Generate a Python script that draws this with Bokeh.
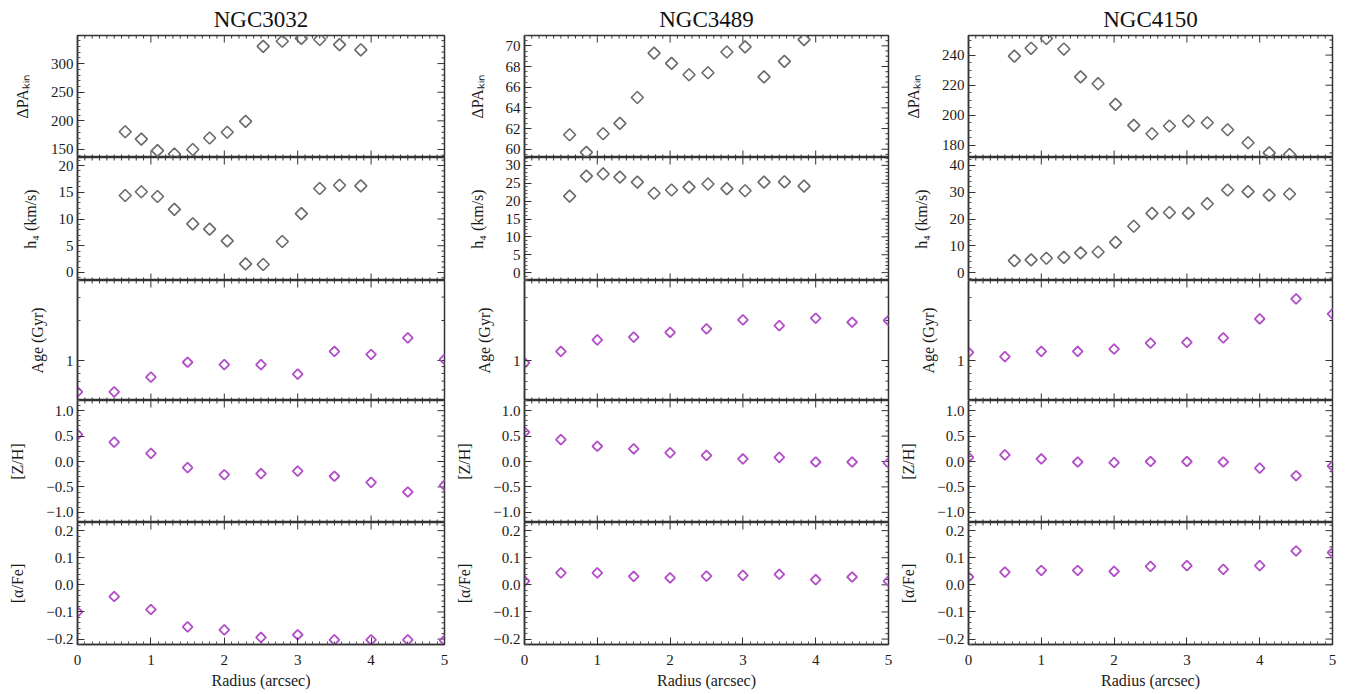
import numpy as np
from bokeh.plotting import figure
from bokeh.models import Range1d, FixedTicker
from bokeh.layouts import gridplot
from bokeh.embed import file_html
from bokeh.resources import INLINE

# ---------------- data ----------------
galaxies = ["NGC3032", "NGC3489", "NGC4150"]

r_pop = [0.0, 0.5, 1.0, 1.5, 2.0, 2.5, 3.0, 3.5, 4.0, 4.5, 5.0]

r_kin_3032 = [0.65, 0.87, 1.09, 1.32, 1.57, 1.80, 2.04, 2.29, 2.53, 2.79, 3.05, 3.30, 3.57, 3.86]
pa_3032 = [181, 168, 148, 142, 150, 170, 180, 199, 330, 339, 344, 342, 333, 324]
h4_3032 = [14.4, 15.1, 14.2, 11.8, 9.1, 8.1, 5.9, 1.6, 1.5, 5.8, 11.0, 15.7, 16.3, 16.2]
age_3032 = [0.58, 0.58, 0.75, 0.97, 0.93, 0.93, 0.79, 1.17, 1.11, 1.48, 1.02]
zh_3032 = [0.53, 0.38, 0.16, -0.12, -0.26, -0.24, -0.19, -0.29, -0.41, -0.60, -0.47]
afe_3032 = [-0.100, -0.043, -0.091, -0.155, -0.166, -0.194, -0.184, -0.203, -0.203, -0.203, -0.205]

r_kin_3489 = [0.62, 0.85, 1.08, 1.31, 1.55, 1.78, 2.02, 2.26, 2.52, 2.78, 3.03, 3.29, 3.57, 3.84]
pa_3489 = [61.4, 59.7, 61.5, 62.5, 65.0, 69.3, 68.3, 67.2, 67.4, 69.4, 69.9, 67.0, 68.5, 70.6]
h4_3489 = [21.4, 27.0, 27.6, 26.7, 25.3, 22.2, 23.1, 23.9, 24.8, 23.5, 22.9, 25.3, 25.4, 24.2]
age_3489 = [0.96, 1.17, 1.43, 1.50, 1.63, 1.73, 2.02, 1.83, 2.08, 1.94, 2.00]
zh_3489 = [0.58, 0.43, 0.30, 0.25, 0.17, 0.12, 0.05, 0.08, -0.01, -0.01, -0.03]
afe_3489 = [0.014, 0.044, 0.044, 0.031, 0.026, 0.032, 0.035, 0.039, 0.019, 0.029, 0.014]

r_kin_4150 = [0.63, 0.86, 1.07, 1.31, 1.54, 1.78, 2.02, 2.27, 2.52, 2.76, 3.02, 3.28, 3.56, 3.84, 4.13, 4.41]
pa_4150 = [239.3, 244.5, 251.0, 244.0, 225.5, 221.0, 207.3, 193.3, 187.8, 192.9, 196.2, 195.1, 190.4, 181.8, 175.1, 174.0]
h4_4150 = [4.5, 4.8, 5.4, 5.7, 7.4, 7.7, 11.3, 17.3, 22.1, 22.4, 22.1, 25.7, 30.8, 30.2, 28.9, 29.3]
age_4150 = [1.15, 1.07, 1.17, 1.17, 1.22, 1.35, 1.37, 1.48, 2.06, 2.91, 2.24]
zh_4150 = [0.08, 0.13, 0.05, -0.01, -0.02, 0.00, 0.00, -0.01, -0.13, -0.28, -0.09]
afe_4150 = [0.029, 0.047, 0.053, 0.053, 0.050, 0.068, 0.071, 0.057, 0.071, 0.125, 0.119]

# axis ranges / ticks
x_ticks = [0, 1, 2, 3, 4, 5]
pa_ranges = [(136, 349), (59.2, 71.0), (172, 253)]
pa_ticks = [[150, 200, 250, 300], [60, 62, 64, 66, 68, 70], [180, 200, 220, 240]]
pa_minor = [10, 0.5, 5]
h4_ranges = [(-1.5, 21.5), (-2.2, 32.2), (-2.9, 42.9)]
h4_ticks = [[0, 5, 10, 15, 20], [0, 5, 10, 15, 20, 25, 30], [0, 10, 20, 30, 40]]
h4_minor = [1, 1, 2]
age_range = (0.5, 4.0)
age_ticks = [1]
age_minor = [0.5, 0.6, 0.7, 0.8, 0.9, 2, 3, 4]
zh_range = (-1.2, 1.2)
zh_ticks = [-1.0, -0.5, 0.0, 0.5, 1.0]
afe_range = (-0.22, 0.23)
afe_ticks = [-0.2, -0.1, 0.0, 0.1, 0.2]

ylabels = ["ΔPAₖᵢₙ", "h₄ (km/s)", "Age (Gyr)", "[Z/H]", "[α/Fe]"]

KIN_COLOR = "#6a6a6a"
POP_COLOR = "#b24ec8"
FONT = "Liberation Serif"
AXC = "#333333"

kin_r = [r_kin_3032, r_kin_3489, r_kin_4150]
pa_vals = [pa_3032, pa_3489, pa_4150]
h4_vals = [h4_3032, h4_3489, h4_4150]
age_vals = [age_3032, age_3489, age_4150]
zh_vals = [zh_3032, zh_3489, zh_4150]
afe_vals = [afe_3032, afe_3489, afe_4150]

col_w = [453, 444, 443]
col_l = [77, 70, 70]
col_r = [9, 9, 8]
TOP = 35
BOT = 49
frame_h = [122, 123, 120, 122, 122]


def fmt(v, nd):
    s = f"{abs(v):.{nd}f}"
    return ("−" + s) if v < 0 else s


def minor_list(lo, hi, step):
    n0 = int(np.ceil(lo / step - 1e-9))
    n1 = int(np.floor(hi / step + 1e-9))
    return [round(k * step, 6) for k in range(n0, n1 + 1)]


def style(ax, ticks, minor, overrides=None, size="15px"):
    ax.ticker = FixedTicker(ticks=ticks, minor_ticks=minor)
    ax.major_tick_in = 7
    ax.major_tick_out = 0
    ax.minor_tick_in = 3
    ax.minor_tick_out = 0
    ax.axis_line_color = AXC
    ax.axis_line_width = 1.5
    ax.major_tick_line_color = AXC
    ax.minor_tick_line_color = "#555555"
    ax.major_label_text_font = FONT
    ax.major_label_text_color = "#1a1a1a"
    ax.major_label_text_font_size = size
    ax.axis_label_text_font = FONT
    ax.axis_label_text_font_style = "normal"
    ax.axis_label_text_color = "#1a1a1a"
    ax.axis_label_text_font_size = "16px"
    if overrides:
        ax.major_label_overrides = overrides


def edge_ticks(p, xs, ys, angle, size):
    p.scatter(xs, ys, marker="dash", angle=angle, size=size,
              line_color=AXC, line_width=1)


grid = []
for row in range(5):
    grid_row = []
    for col in range(3):
        top = TOP if row == 0 else 0
        bot = BOT if row == 4 else 0
        is_log = (row == 2)
        if row == 0:
            yr = pa_ranges[col]
        elif row == 1:
            yr = h4_ranges[col]
        elif row == 2:
            yr = age_range
        elif row == 3:
            yr = zh_range
        else:
            yr = afe_range
        p = figure(
            width=col_w[col], height=frame_h[row] + top + bot,
            x_range=Range1d(0, 5), y_range=Range1d(*yr),
            y_axis_type="log" if is_log else "linear",
            x_axis_location="below" if row == 4 else None,
            output_backend="svg", toolbar_location=None, tools="",
            min_border_left=col_l[col], min_border_right=col_r[col],
            min_border_top=top, min_border_bottom=bot,
        )
        p.grid.visible = False
        p.outline_line_color = AXC
        p.outline_line_width = 1.5
        p.background_fill_color = "white"
        p.border_fill_color = "white"

        # y ticks
        if row == 0:
            yt = pa_ticks[col]
            ym = minor_list(yr[0], yr[1], pa_minor[col])
            yo = {t: str(t) for t in yt}
        elif row == 1:
            yt = h4_ticks[col]
            ym = minor_list(yr[0], yr[1], h4_minor[col])
            yo = {t: str(t) for t in yt}
        elif row == 2:
            yt = age_ticks
            ym = age_minor
            yo = {1: "1"}
        elif row == 3:
            yt = zh_ticks
            ym = minor_list(yr[0], yr[1], 0.1)
            yo = {t: fmt(t, 1) for t in yt}
        else:
            yt = afe_ticks
            ym = minor_list(yr[0], yr[1], 0.02)
            yo = {t: fmt(t, 1) for t in yt}
        ym = [m for m in ym if m not in yt]

        xm = [m for m in minor_list(0, 5, 0.1) if m not in x_ticks]

        if row == 4:
            xa = p.xaxis[0]
            style(xa, x_ticks, xm, {t: str(t) for t in x_ticks}, size="15px")
            xa.axis_label = "Radius (arcsec)"
            xa.major_label_standoff = 10
            xa.axis_label_standoff = 4
        else:
            # ticks along the bottom edge
            edge_ticks(p, x_ticks, [yr[0]] * len(x_ticks), np.pi / 2, 14)
            edge_ticks(p, xm, [yr[0]] * len(xm), np.pi / 2, 6)

        ya = p.yaxis[0]
        style(ya, yt, ym, yo, size="15px")
        ya.axis_label = ylabels[row]
        ya.major_label_standoff = 4
        ya.axis_label_standoff = 17

        # mirrored ticks on top and right edges
        edge_ticks(p, x_ticks, [yr[1]] * len(x_ticks), np.pi / 2, 14)
        edge_ticks(p, xm, [yr[1]] * len(xm), np.pi / 2, 6)
        edge_ticks(p, [5] * len(yt), yt, 0, 14)
        edge_ticks(p, [5] * len(ym), ym, 0, 6)

        if row == 0:
            p.title.text = galaxies[col]
            p.title.align = "center"
            p.title.text_font = FONT
            p.title.text_font_size = "23px"
            p.title.text_font_style = "normal"
            p.title.text_color = "#111111"
            p.title.standoff = 7

        # data
        if row == 0:
            p.scatter(kin_r[col], pa_vals[col], marker="square", angle=np.pi / 4,
                      size=8.5, fill_color=None, line_color=KIN_COLOR, line_width=1.6)
        elif row == 1:
            p.scatter(kin_r[col], h4_vals[col], marker="square", angle=np.pi / 4,
                      size=8.5, fill_color=None, line_color=KIN_COLOR, line_width=1.6)
        else:
            vals = [age_vals, zh_vals, afe_vals][row - 2][col]
            p.scatter(r_pop, vals, marker="square", angle=np.pi / 4,
                      size=7, fill_color=None, line_color=POP_COLOR, line_width=1.8)
        grid_row.append(p)
    grid.append(grid_row)

layout = gridplot(grid, toolbar_location=None)
open("out.html", "w").write(file_html(layout, INLINE))
